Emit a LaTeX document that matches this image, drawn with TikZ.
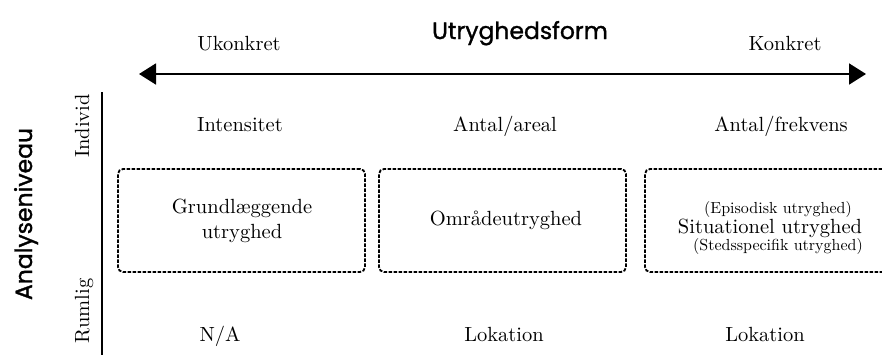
\documentclass[tikz,border=0pt]{standalone}
\usepackage{fontspec}
\setmainfont{lmroman10-regular}[Extension=.otf]
\newfontfamily\geofont{Poppins}[FakeBold=1.2]
\usetikzlibrary{arrows.meta}
\tikzset{
  lbl/.style={font=\fontsize{20.5}{25}\selectfont, inner sep=0pt, anchor=base},
  small/.style={font=\fontsize{16}{18}\selectfont, inner sep=0pt, anchor=base},
  heading/.style={font=\geofont\fontsize{23.5}{27}\selectfont, inner sep=0pt, anchor=base},
  dbox/.style={draw, line width=1.8pt, dash pattern=on 3.5pt off 1.5pt, rounded corners=5pt,
    minimum width=247pt, minimum height=103pt, inner sep=0pt},
  axis/.style={line width=1.8pt},
}
\begin{document}
\begin{tikzpicture}[x=1pt,y=-1pt]
\clip (0,0) rectangle (882,354);
\fill[white] (0,0) rectangle (882,354);
% horizontal axis
\node[heading] (title) at (520,39) {Utryghedsform};
\node[lbl] (ukonkret) at (239,50) {Ukonkret};
\node[lbl] (konkret) at (785,50) {Konkret};
\coordinate (aL) at (139,74);
\coordinate (aR) at (866,74);
\draw[axis, {Triangle[length=17pt,width=21pt]}-{Triangle[length=17pt,width=21pt]}] (aL) -- (aR);
% vertical axis
\coordinate (vT) at (102,92);
\coordinate (vB) at (102,356);
\draw[axis] (vT) -- (vB);
\node[heading, rotate=90] (analyse) at (32,214) {Analyseniveau};
\node[lbl, rotate=90] (individ) at (89,126) {Individ};
\node[lbl, rotate=90] (rumlig) at (89,311) {Rumlig};
% row labels
\node[lbl] (int) at (240,131) {Intensitet};
\node[lbl] (areal) at (505,131) {Antal/areal};
\node[lbl] (frek) at (781,131) {Antal/frekvens};
\node[lbl] (na) at (220,341) {N/A};
\node[lbl] (lok1) at (504,341) {Lokation};
\node[lbl] (lok2) at (765,341) {Lokation};
% boxes
\node[dbox] (b1) at (241.5,220.5) {};
\node[dbox] (b2) at (502.5,220.5) {};
\node[dbox] (b3) at (768.5,220.5) {};
\node[lbl] (g1) at (242,213) {Grundlæggende};
\node[lbl] (g2) at (242,238) {utryghed};
\node[lbl] (omr) at (506,225) {Områdeutryghed};
\node[small] (epi) at (778,213) {(Episodisk utryghed)};
\node[lbl] (sit) at (770,233) {Situationel utryghed};
\node[small] (sted) at (778,250) {(Stedsspecifik utryghed)};
\end{tikzpicture}
\end{document}
